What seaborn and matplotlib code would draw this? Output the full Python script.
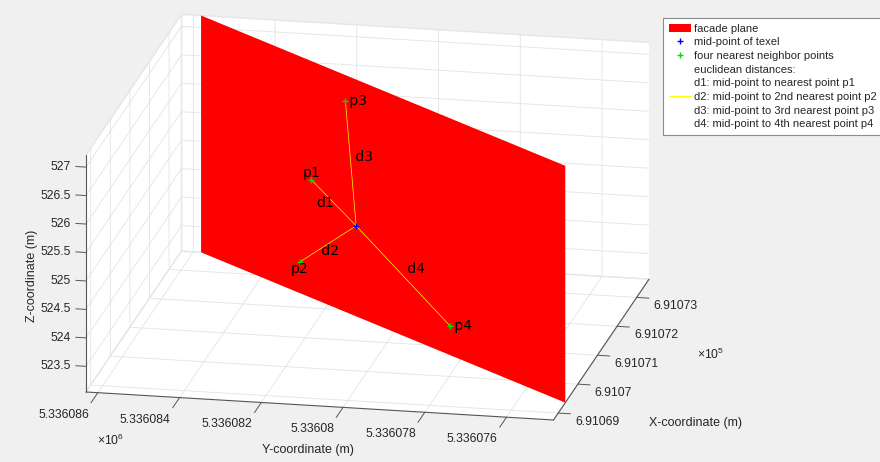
import numpy as np
import matplotlib
matplotlib.use("Agg")
import matplotlib.pyplot as plt
import matplotlib.transforms as mtransforms
import seaborn as sns
from mpl_toolkits.mplot3d import proj3d
from mpl_toolkits.mplot3d.art3d import Poly3DCollection
from matplotlib.patches import Patch
from matplotlib.lines import Line2D

# facade plane corners (m)
plane_x = [691073.63, 691069.36, 691069.36, 691073.63]
plane_y = [5336085.81, 5336074.85, 5336074.85, 5336085.81]
plane_z = [527.21, 527.21, 523.05, 523.05]

# mid-point of the texel
mid_x, mid_y, mid_z = 691071.70, 5336081.09, 524.70

# four nearest neighbour points
nb_names = ["p1", "p2", "p3", "p4"]
nb_x = [691072.23, 691072.37, 691071.82, 691070.55]
nb_y = [5336082.44, 5336082.79, 5336081.41, 5336078.23]
nb_z = [525.18, 523.65, 526.81, 523.64]
dist_names = ["d1", "d2", "d3", "d4"]

# axes
x_lim = (691068.76, 691073.63)
y_lim = (5336074.85, 5336086.29)
z_lim = (523.05, 527.21)
x_ticks = [691069, 691070, 691071, 691072, 691073]
y_ticks = [5336076, 5336078, 5336080, 5336082, 5336084, 5336086]
z_ticks = [523.5, 524, 524.5, 525, 525.5, 526, 526.5, 527]

legend_labels = ["facade plane", "mid-point of texel", "four nearest neighbor points",
                 "euclidean distances:",
                 "d1: mid-point to nearest point p1",
                 "d2: mid-point to 2nd nearest point p2",
                 "d3: mid-point to 3rd nearest point p3",
                 "d4: mid-point to 4th nearest point p4"]

sns.set_theme(style="white")
plt.rcParams["font.family"] = ["Liberation Sans", "DejaVu Sans"]
plt.rcParams["mathtext.fontset"] = "custom"
plt.rcParams["mathtext.rm"] = "Liberation Sans"
plt.rcParams["mathtext.default"] = "regular"
dark = "#262626"
bg = "#f0f0f0"

fig = plt.figure(figsize=(8.8, 4.62), dpi=100)
fig.patch.set_facecolor(bg)
ax = fig.add_axes([0.05, 0.0, 0.9, 1.0], projection="3d", computed_zorder=False)
ax.set_facecolor("none")
ax.set_proj_type("ortho")
ax.view_init(elev=17.3, azim=191.4)
ax.set_box_aspect((480, 474, 246.5))

plane = Poly3DCollection([list(zip(plane_x, plane_y, plane_z))], facecolor="red",
                         edgecolor="none", zorder=1)
ax.add_collection3d(plane)

for i in range(4):
    ax.plot([mid_x, nb_x[i]], [mid_y, nb_y[i]], [mid_z, nb_z[i]],
            color="yellow", lw=0.5, zorder=2)
ax.plot(nb_x, nb_y, nb_z, ls="none", marker="+", ms=4, mew=1, color="#00dd00", zorder=3)
ax.plot([mid_x], [mid_y], [mid_z], ls="none", marker="+", ms=4, mew=1, color="blue", zorder=3)

# point and distance labels
p_align = [("center", "bottom"), ("center", "top"), ("left", "center"), ("left", "center")]
d_align = [("right", "center"), ("center", "top"), ("left", "bottom"), ("left", "bottom")]
for i in range(4):
    ha, va = p_align[i]
    ax.text(nb_x[i], nb_y[i], nb_z[i], " " + nb_names[i] if ha == "left" else nb_names[i],
            ha=ha, va=va, fontsize=10, family="DejaVu Sans", color="black", zorder=4)
    ha, va = d_align[i]
    ax.text((mid_x + nb_x[i]) / 2, (mid_y + nb_y[i]) / 2, (mid_z + nb_z[i]) / 2,
            dist_names[i] if ha == "right" else " " + dist_names[i], ha=ha, va=va,
            fontsize=10, family="DejaVu Sans", color="black", zorder=4)

ax.set_xlim(*x_lim)
ax.set_ylim(*y_lim)
ax.set_zlim(*z_lim)
ax.set_xticks(x_ticks)
ax.set_yticks(y_ticks)
ax.set_zticks(z_ticks)
ax.set_xticklabels([])
ax.set_yticklabels([])
ax.set_zticklabels([])

for axis in (ax.xaxis, ax.yaxis, ax.zaxis):
    axis.set_pane_color((1, 1, 1, 1))
    axis.pane.set_edgecolor("#e6e6e6")
    axis._axinfo["grid"].update(color="#e3e3e3", linewidth=0.6)
    axis._axinfo["tick"].update(inward_factor=0, outward_factor=0)
    axis.line.set_color("#555555")
    axis.line.set_linewidth(0.8)


def shifted(dx, dy):
    return mtransforms.offset_copy(ax.transData, fig=fig, x=dx, y=dy, units="dots")


# MATLAB-like ticks: marks pushed out along the neighbouring axis, labels beside them
tick_kw = dict(color="#555555", lw=0.7, zorder=5)
lab_kw = dict(fontsize=8.7, color=dark, zorder=5)
for v in y_ticks:
    ax.plot([x_lim[0], x_lim[0] - 0.35], [v, v], [z_lim[0], z_lim[0]], **tick_kw)
    ax.text(x_lim[0], v, z_lim[0], f"{v / 1e6:.7g}", ha="right", va="top",
            transform=shifted(-9, -16), **lab_kw)
for v in x_ticks:
    ax.plot([v, v], [y_lim[0], y_lim[0] - 0.3], [z_lim[0], z_lim[0]], **tick_kw)
    ax.text(v, y_lim[0], z_lim[0], f"{v / 1e5:.6g}", ha="left", va="center",
            transform=shifted(17, -9), **lab_kw)
for v in z_ticks:
    ax.plot([x_lim[0], x_lim[0]], [y_lim[1], y_lim[1] + 0.25], [v, v], **tick_kw)
    ax.text(x_lim[0], y_lim[1], v, f"{v:g}", ha="right", va="center",
            transform=shifted(-15, 0), **lab_kw)

# fit the projected box onto the spot it takes in the reference
fig.canvas.draw()
corners = np.array([[x, y, z] for x in x_lim for y in y_lim for z in z_lim])
px, py, _ = proj3d.proj_transform(corners[:, 0], corners[:, 1], corners[:, 2], ax.get_proj())
disp = ax.transData.transform(np.column_stack([px, py]))
W, H = fig.bbox.width, fig.bbox.height
pos = ax.get_position()
x0, y0, side = pos.x0 * W, pos.y0 * H, pos.width * W
tx0, tx1, ty0 = 86, 649, H - 420
s = (tx1 - tx0) / (disp[:, 0].max() - disp[:, 0].min())
nx0 = tx0 - (disp[:, 0].min() - x0) * s
ny0 = ty0 - (disp[:, 1].min() - y0) * s
ax.set_position([nx0 / W, ny0 / H, side * s / W, side * s / H])

# axis titles and exponents
fig.text(308 / W, 1 - 450 / H, "Y-coordinate (m)", ha="center", va="center", fontsize=9, color=dark)
fig.text(649 / W, 1 - 423 / H, "X-coordinate (m)", ha="left", va="center", fontsize=9, color=dark)
fig.text(32 / W, 1 - 276 / H, "Z-coordinate (m)", ha="center", va="center", rotation=90,
         fontsize=9, color=dark)
fig.text(97 / W, 1 - 440 / H, r"$\times10^{6}$", ha="left", va="center", fontsize=8.7, color=dark)
fig.text(697 / W, 1 - 354 / H, r"$\times10^{5}$", ha="left", va="center", fontsize=8.7, color=dark)

handles = [Patch(facecolor="red", edgecolor="none"),
           Line2D([], [], ls="none", marker="+", ms=4, color="blue"),
           Line2D([], [], ls="none", marker="+", ms=4, color="#00dd00"),
           Line2D([], [], color="none"),
           Line2D([], [], color="none"),
           Line2D([], [], color="yellow", lw=0.8),
           Line2D([], [], color="none"),
           Line2D([], [], color="none")]
leg = fig.legend(handles, legend_labels, loc="upper left", bbox_to_anchor=(663 / W, 1 - 18 / H),
                 fontsize=8, frameon=True, fancybox=False, framealpha=1, edgecolor="#8c8c8c",
                 handlelength=2.0, handletextpad=0.25, borderpad=0.5, labelspacing=0.33,
                 borderaxespad=0)
leg.get_frame().set_linewidth(0.8)

fig.savefig("out.png", dpi=100, facecolor=fig.get_facecolor())
